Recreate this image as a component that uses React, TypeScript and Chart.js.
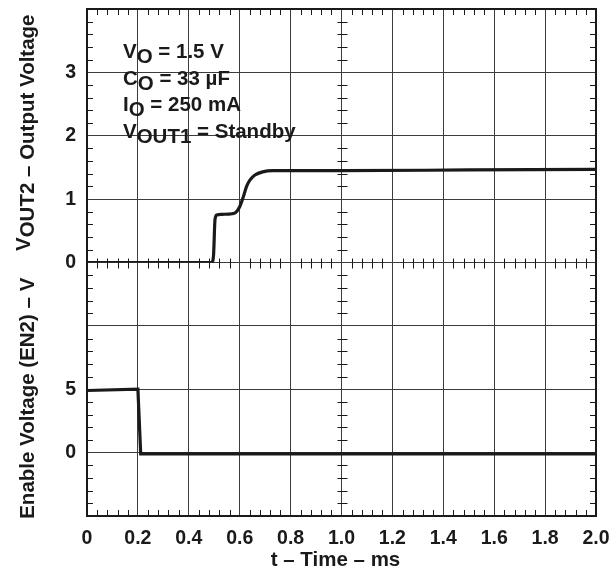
import React, { useEffect, useRef } from 'react';
import { Chart, registerables } from 'chart.js';

Chart.register(...registerables);

// ---- data ----
const timeOut = [0, 0.49, 0.497, 0.503, 0.51, 0.53, 0.57, 0.585, 0.6, 0.613, 0.627, 0.64, 0.66, 0.69, 0.73, 0.8, 1.0, 1.5, 2.0];
const vOut2 = [0, 0, 0.1, 0.68, 0.75, 0.76, 0.77, 0.79, 0.88, 1.02, 1.2, 1.3, 1.38, 1.43, 1.45, 1.45, 1.45, 1.46, 1.47];
const timeEn = [0, 0.2, 0.211, 0.5, 1.0, 2.0];
const vEn = [4.9, 5.0, -0.1, -0.1, -0.1, -0.1];

const xTickValues = [0, 0.2, 0.4, 0.6, 0.8, 1.0, 1.2, 1.4, 1.6, 1.8, 2.0];
const outTickValues = [0, 1, 2, 3, 4];
const outTickLabels = ['0', '1', '2', '3', ''];
const enTickValues = [-5, 0, 5, 10, 15];
const enTickLabels = ['', '0', '5', '', ''];

const xTitle = 't – Time – ms';
const outTitle = [{ t: 'V', up: true }, { t: 'OUT2' }, { t: ' – Output Voltage' }];
const enTitle = 'Enable Voltage (EN2) – V';
const annotationLines = [
  [{ t: 'V' }, { t: 'O', sub: true }, { t: ' = 1.5 V' }],
  [{ t: 'C' }, { t: 'O', sub: true }, { t: ' = 33 µF' }],
  [{ t: 'I' }, { t: 'O', sub: true }, { t: ' = 250 mA' }],
  [{ t: 'V' }, { t: 'OUT1', sub: true }, { t: ' = Standby' }],
];

const FAMILY = '"Liberation Sans", Arial, Helvetica, sans-serif';
const INK = '#1a1a1a';
const GRID = '#3c3c3c';

type Seg = { t: string; sub?: boolean; up?: boolean };

function drawSegs(ctx: CanvasRenderingContext2D, segs: Seg[], x: number, y: number, off: number) {
  let cx = x;
  for (const s of segs) {
    const dy = s.sub ? off : s.up ? -off : 0;
    ctx.fillText(s.t, cx, y + dy);
    cx += ctx.measureText(s.t).width;
  }
}
function segsWidth(ctx: CanvasRenderingContext2D, segs: Seg[]) {
  return segs.reduce((w, s) => w + ctx.measureText(s.t).width, 0);
}

const framePlugin = {
  id: 'frame',
  beforeDatasetsDraw(chart: any) {
    const { ctx, chartArea: a, scales } = chart;
    const x = scales.x, yo = scales.yOut, ye = scales.yEn;
    const midY = Math.round(yo.getPixelForValue(0)) + 0.5;
    const midX = Math.round(x.getPixelForValue(1.0)) + 0.5;
    ctx.save();
    ctx.strokeStyle = INK;
    ctx.lineWidth = 1;
    ctx.beginPath();
    for (let i = 1; i < 50; i++) {
      if (i % 5 === 0) continue;
      const px = Math.round(x.getPixelForValue(i * 0.04)) + 0.5;
      ctx.moveTo(px, a.top); ctx.lineTo(px, a.top + 6);
      ctx.moveTo(px, a.bottom); ctx.lineTo(px, a.bottom - 6);
      ctx.moveTo(px, midY - 5); ctx.lineTo(px, midY + 5);
    }
    for (let i = 1; i < 20; i++) {
      if (i % 5 === 0) continue;
      const pys = [yo.getPixelForValue(i * 0.2), ye.getPixelForValue(-5 + i)];
      for (const p of pys) {
        const py = Math.round(p) + 0.5;
        ctx.moveTo(a.left, py); ctx.lineTo(a.left + 6, py);
        ctx.moveTo(a.right, py); ctx.lineTo(a.right - 6, py);
        ctx.moveTo(midX - 5, py); ctx.lineTo(midX + 5, py);
      }
    }
    ctx.stroke();
    ctx.lineWidth = 2;
    ctx.strokeRect(a.left, a.top, a.right - a.left, a.bottom - a.top);
    ctx.restore();
  },
  afterDraw(chart: any) {
    const { ctx, chartArea: a, scales } = chart;
    ctx.save();
    ctx.fillStyle = INK;
    ctx.textBaseline = 'alphabetic';
    ctx.textAlign = 'left';
    // annotation
    ctx.font = `bold 20.5px ${FAMILY}`;
    annotationLines.forEach((line, i) => {
      drawSegs(ctx, line, 123, 58 + i * 26.7, 5);
    });
    // x title
    ctx.font = `bold 20.5px ${FAMILY}`;
    const xw = ctx.measureText(xTitle).width;
    ctx.fillText(xTitle, (a.left + a.right) / 2 - 6 - xw / 2, 566);
    // top y title
    const yo = scales.yOut, ye = scales.yEn;
    const topC = (yo.top + yo.bottom) / 2 - 3;
    ctx.save();
    ctx.translate(34, topC);
    ctx.rotate(-Math.PI / 2);
    const tw = segsWidth(ctx, outTitle);
    drawSegs(ctx, outTitle, -tw / 2, 0, 4);
    ctx.restore();
    // bottom y title
    const botC = (ye.top + ye.bottom) / 2 + 9;
    ctx.save();
    ctx.translate(34, botC);
    ctx.rotate(-Math.PI / 2);
    const bw = ctx.measureText(enTitle).width;
    ctx.fillText(enTitle, -bw / 2, 0);
    ctx.restore();
    ctx.restore();
  },
};

const tickFont = { family: FAMILY, size: 19.5, weight: 'bold' as const };

const zeroPad = (s: any) => {
  s.paddingTop = 0;
  s.paddingBottom = 0;
  s.paddingLeft = 0;
  s.paddingRight = 0;
};

export default function App() {
  const ref = useRef<HTMLCanvasElement | null>(null);
  useEffect(() => {
    if (!ref.current) return;
    const chart = new Chart(ref.current, {
      type: 'line',
      data: {
        datasets: [
          {
            label: 'VOUT2',
            data: timeOut.map((t, i) => ({ x: t, y: vOut2[i] })),
            yAxisID: 'yOut',
            borderColor: INK,
            borderWidth: 3.2,
            pointRadius: 0,
            cubicInterpolationMode: 'monotone',
            fill: false,
          },
          {
            label: 'EN2',
            data: timeEn.map((t, i) => ({ x: t, y: vEn[i] })),
            yAxisID: 'yEn',
            borderColor: INK,
            borderWidth: 3.2,
            pointRadius: 0,
            tension: 0,
            fill: false,
          },
        ],
      },
      options: {
        animation: false,
        responsive: false,
        maintainAspectRatio: false,
        layout: { padding: { left: 0, right: 20, top: 9, bottom: 0 } },
        plugins: { legend: { display: false }, tooltip: { enabled: false } },
        scales: {
          x: {
            type: 'linear',
            min: 0,
            max: 2,
            afterBuildTicks: (s: any) => { s.ticks = xTickValues.map((v) => ({ value: v })); },
            afterFit: (s: any) => { s.height = 63; zeroPad(s); },
            ticks: {
              font: tickFont,
              color: INK,
              padding: 11,
              maxRotation: 0,
              autoSkip: false,
              callback: (v: any) => (v === 0 ? '0' : Number(v).toFixed(1)),
            },
            grid: { color: GRID, lineWidth: 1, drawTicks: false },
            border: { display: false },
          },
          yEn: {
            type: 'linear',
            position: 'left',
            stack: 'v',
            stackWeight: 1,
            min: -5,
            max: 15,
            afterBuildTicks: (s: any) => { s.ticks = enTickValues.map((v) => ({ value: v })); },
            afterFit: (s: any) => { s.width = 87; zeroPad(s); },
            ticks: {
              font: tickFont,
              color: INK,
              padding: 11,
              autoSkip: false,
              callback: (v: any) => enTickLabels[enTickValues.indexOf(Number(v))] ?? '',
            },
            grid: { color: GRID, lineWidth: 1, drawTicks: false },
            border: { display: false },
          },
          yOut: {
            type: 'linear',
            position: 'left',
            stack: 'v',
            stackWeight: 1,
            min: 0,
            max: 4,
            afterBuildTicks: (s: any) => { s.ticks = outTickValues.map((v) => ({ value: v })); },
            afterFit: (s: any) => { s.width = 87; zeroPad(s); },
            ticks: {
              font: tickFont,
              color: INK,
              padding: 11,
              autoSkip: false,
              callback: (v: any) => outTickLabels[outTickValues.indexOf(Number(v))] ?? '',
            },
            grid: { color: GRID, lineWidth: 1, drawTicks: false },
            border: { display: false },
          },
        },
      } as any,
      plugins: [framePlugin],
    });
    return () => chart.destroy();
  }, []);
  return (
    <div style={{ position: 'fixed', left: 0, top: 0, width: 616, height: 579, background: '#fff' }}>
      <canvas ref={ref} width={616} height={579} style={{ width: 616, height: 579, display: 'block' }} />
    </div>
  );
}
